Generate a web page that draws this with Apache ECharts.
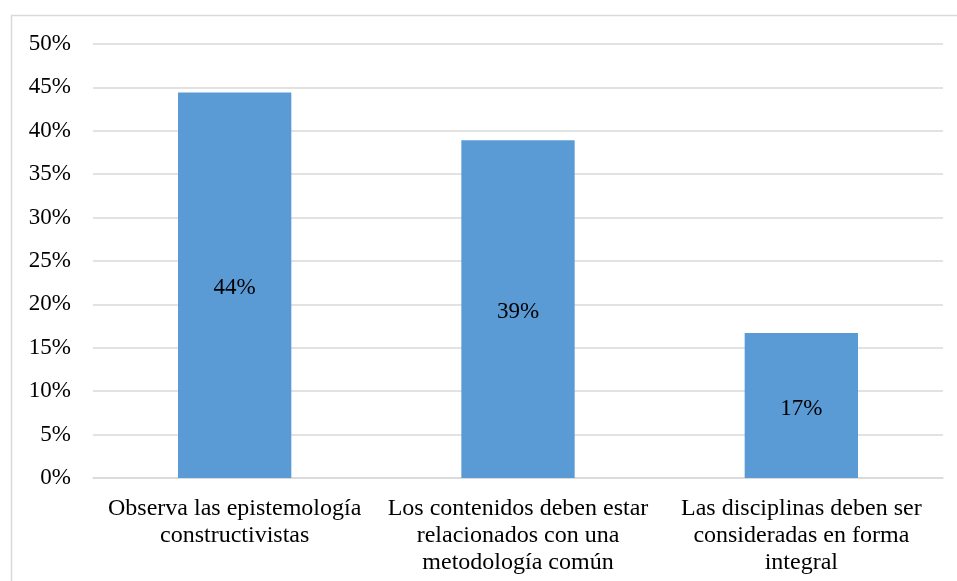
<!DOCTYPE html>
<html>
<head>
<meta charset="utf-8">
<script src="https://cdn.jsdelivr.net/npm/echarts@6/dist/echarts.min.js"></script>
<style>
  html, body { margin: 0; padding: 0; background: #fff; }
  #chart { width: 957px; height: 581px; }
</style>
</head>
<body>
<div id="chart"></div>
<script>
// Categories (wrapped as they appear under each bar)
const categories = [
  'Observa las epistemología\nconstructivistas',
  'Los contenidos deben estar\nrelacionados con una\nmetodología común',
  'Las disciplinas deben ser\nconsideradas en forma\nintegral'
];
// Share of responses, in percent
const values = [44.4, 38.9, 16.7];
// Value axis range
const yMin = 0;
const yMax = 50;
const yStep = 5;

const FONT = '"Liberation Serif", "Times New Roman", serif';
const chart = echarts.init(document.getElementById('chart'), null, { renderer: 'canvas' });

chart.setOption({
  animation: false,
  backgroundColor: '#ffffff',
  graphic: [{
    type: 'rect',
    silent: true,
    shape: { x: 11.5, y: 15.5, width: 980, height: 620 },
    style: { fill: 'none', stroke: '#d9d9d9', lineWidth: 1.5 }
  }],
  grid: { left: 93, right: 14, top: 44, bottom: 103, containLabel: false },
  xAxis: {
    type: 'category',
    data: categories,
    axisLine: { show: true, lineStyle: { color: '#d9d9d9', width: 1.5 } },
    axisTick: { show: false },
    axisLabel: {
      interval: 0,
      margin: 17,
      color: '#000',
      fontFamily: FONT,
      fontSize: 24,
      lineHeight: 27,
      align: 'center'
    }
  },
  yAxis: {
    type: 'value',
    min: yMin,
    max: yMax,
    interval: yStep,
    axisLine: { show: false },
    axisTick: { show: false },
    splitLine: { lineStyle: { color: '#d9d9d9', width: 1.5 } },
    axisLabel: {
      margin: 22,
      color: '#000',
      fontFamily: FONT,
      fontSize: 23,
      formatter: v => v + '%'
    }
  },
  series: [{
    type: 'bar',
    data: values,
    barWidth: '40%',
    itemStyle: { color: '#5b9bd5' },
    label: {
      show: true,
      position: 'inside',
      offset: [0, 3],
      color: '#000',
      fontFamily: FONT,
      fontSize: 23,
      formatter: p => Math.round(p.value) + '%'
    }
  }]
});
</script>
</body>
</html>
